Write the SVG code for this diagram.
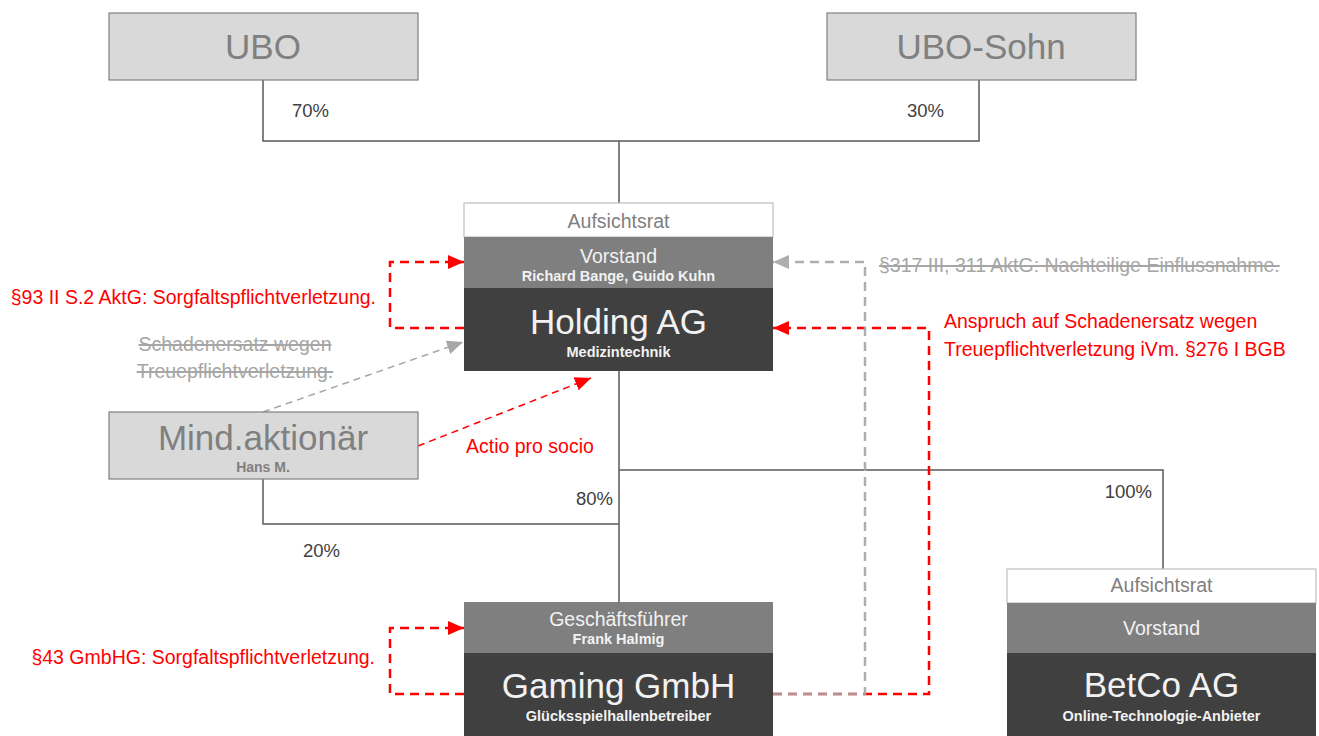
<svg xmlns="http://www.w3.org/2000/svg" width="1319" height="736" viewBox="0 0 1319 736">
<defs>
<style>
text{font-family:"Liberation Sans",Arial,sans-serif}
.owner{fill:#d9d9d9;stroke:#7f7f7f;stroke-width:1.2}
.ownT{fill:#808080;font-size:35px;text-anchor:middle}
.ownS{fill:#808080;font-size:14px;font-weight:bold;text-anchor:middle}
.ar{fill:#ffffff;stroke:#bfbfbf;stroke-width:1.2}
.arT{fill:#7f7f7f;font-size:19.5px;text-anchor:middle}
.vor{fill:#7f7f7f}
.vorT{fill:#f2f2f2;font-size:19.5px;text-anchor:middle}
.vorS{fill:#f2f2f2;font-size:14.5px;font-weight:bold;text-anchor:middle}
.co{fill:#404040}
.coT{fill:#f2f2f2;font-size:35px;text-anchor:middle}
.coS{fill:#f2f2f2;font-size:14.5px;font-weight:bold;text-anchor:middle}
.pct{fill:#404040;font-size:18.5px}
.red{fill:#ff0000;font-size:19.5px}
.strike{fill:#a6a6a6;font-size:19.5px;text-decoration:line-through}
.own{fill:none;stroke:#595959;stroke-width:1.5}
.rd{fill:none;stroke:#ff0000;stroke-width:2.5;stroke-dasharray:9 6}
.gd{fill:none;stroke:#a6a6a6;stroke-width:2.5;stroke-dasharray:9 6}
.rdt{fill:none;stroke:#ff0000;stroke-width:1.5;stroke-dasharray:7 5}
.gdt{fill:none;stroke:#a6a6a6;stroke-width:1.5;stroke-dasharray:7 5}
</style>
<marker id="ahR" markerUnits="userSpaceOnUse" markerWidth="18" markerHeight="16" refX="16" refY="7" orient="auto"><path d="M0,0 L16,7 L0,14 z" fill="#ff0000"/></marker>
<marker id="ahG" markerUnits="userSpaceOnUse" markerWidth="18" markerHeight="16" refX="16" refY="7" orient="auto"><path d="M0,0 L16,7 L0,14 z" fill="#a6a6a6"/></marker>
</defs>
<rect width="1319" height="736" fill="#ffffff"/>

<g id="connectors">
<path class="own" d="M263,80 V141 H979 V80"/>
<path class="own" d="M619,141 V203"/>
<path class="own" d="M619,371 V602"/>
<path class="own" d="M619,470 H1163 V569"/>
<path class="own" d="M263,479 V524 H619"/>
<path class="rd" d="M464,328 H390 V262 H464" marker-end="url(#ahR)"/>
<path class="rd" d="M464,694 H390 V628 H464" marker-end="url(#ahR)"/>
<path class="rd" d="M773,694 H929 V328 H773" marker-end="url(#ahR)"/>
<path class="gd" d="M773,694 H865 V262 H773" marker-end="url(#ahG)" opacity="0.9"/>
<path class="gdt" d="M263,412 L463,342" marker-end="url(#ahG)"/>
<path class="rdt" d="M418,446 L591,378" marker-end="url(#ahR)"/>
</g>

<g id="ubo">
<rect class="owner" x="109" y="13" width="309" height="67"/>
<text class="ownT" x="263" y="59">UBO</text>
</g>
<g id="ubo-sohn">
<rect class="owner" x="827" y="13" width="309" height="67"/>
<text class="ownT" x="981" y="59">UBO-Sohn</text>
</g>

<g id="labels-pct">
<text class="pct" x="292" y="117">70%</text>
<text class="pct" x="907" y="117">30%</text>
<text class="pct" x="613" y="505" text-anchor="end">80%</text>
<text class="pct" x="1152" y="498" text-anchor="end">100%</text>
<text class="pct" x="303" y="557">20%</text>
</g>

<g id="holding">
<rect class="ar" x="464" y="203" width="309" height="34"/>
<text class="arT" x="618.5" y="228">Aufsichtsrat</text>
<rect class="vor" x="464" y="237" width="309" height="51"/>
<text class="vorT" x="618.5" y="263">Vorstand</text>
<text class="vorS" x="618.5" y="281" font-size="14">Richard Bange, Guido Kuhn</text>
<rect class="co" x="464" y="288" width="309" height="83"/>
<text class="coT" x="618.5" y="334">Holding AG</text>
<text class="coS" x="618.5" y="357">Medizintechnik</text>
</g>

<g id="mindaktionaer">
<rect class="owner" x="109" y="412" width="309" height="67"/>
<text class="ownT" x="263" y="450">Mind.aktionär</text>
<text class="ownS" x="263" y="472">Hans M.</text>
</g>

<g id="gaming">
<rect class="vor" x="464" y="602" width="309" height="51"/>
<text class="vorT" x="618.5" y="626">Geschäftsführer</text>
<text class="vorS" x="618.5" y="644">Frank Halmig</text>
<rect class="co" x="464" y="653" width="309" height="90"/>
<text class="coT" x="618.5" y="698">Gaming GmbH</text>
<text class="coS" x="618.5" y="721">Glücksspielhallenbetreiber</text>
</g>

<g id="betco">
<rect class="ar" x="1007" y="569" width="309" height="34"/>
<text class="arT" x="1161.5" y="592">Aufsichtsrat</text>
<rect class="vor" x="1007" y="603" width="309" height="50"/>
<text class="vorT" x="1161.5" y="635">Vorstand</text>
<rect class="co" x="1007" y="653" width="309" height="90"/>
<text class="coT" x="1161.5" y="697">BetCo AG</text>
<text class="coS" x="1161.5" y="721">Online-Technologie-Anbieter</text>
</g>

<g id="annotations">
<text class="red" x="376" y="304" text-anchor="end">§93 II S.2 AktG: Sorgfaltspflichtverletzung.</text>
<text class="red" x="375" y="664" text-anchor="end">§43 GmbHG: Sorgfaltspflichtverletzung.</text>
<text class="strike" x="235" y="351" text-anchor="middle">Schadenersatz wegen</text>
<text class="strike" x="235" y="378" text-anchor="middle">Treuepflichtverletzung.</text>
<text class="red" x="466" y="453">Actio pro socio</text>
<text class="strike" x="879" y="272">§317 III, 311 AktG: Nachteilige Einflussnahme.</text>
<text class="red" x="944" y="328">Anspruch auf Schadenersatz wegen</text>
<text class="red" x="944" y="356">Treuepflichtverletzung iVm. §276 I BGB</text>
</g>
</svg>
